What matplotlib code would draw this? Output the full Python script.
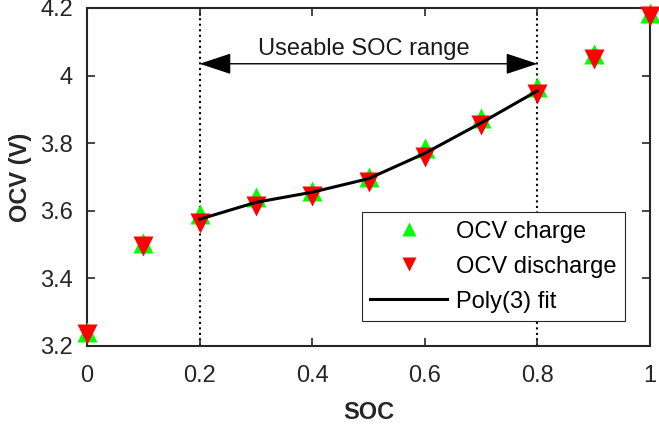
import numpy as np
import matplotlib.pyplot as plt

plt.rcParams['font.family'] = ['Liberation Sans', 'DejaVu Sans']

soc = [0, 0.1, 0.2, 0.3, 0.4, 0.5, 0.6, 0.7, 0.8, 0.9, 1.0]
ocv_charge = [3.24, 3.505, 3.59, 3.64, 3.66, 3.70, 3.785, 3.875, 3.965, 4.065, 4.185]
ocv_discharge = [3.235, 3.495, 3.565, 3.615, 3.645, 3.685, 3.76, 3.855, 3.945, 4.05, 4.175]
soc_fit = [0.2, 0.3, 0.4, 0.5, 0.6, 0.7, 0.8]
ocv_fit = [3.575, 3.625, 3.655, 3.695, 3.77, 3.86, 3.955]
soc_range = [0.2, 0.8]

fig = plt.figure(figsize=(6.59, 4.28), dpi=100)
ax = fig.add_axes([87/659, 1-346/428, 563/659, 338/428])

for s in soc_range:
    ax.plot([s, s], [3.2, 4.2], ':', color='k', lw=1.5, zorder=1)

ax.plot(soc, ocv_charge, '^', color=(0, 1, 0), ms=14.5, mec='none',
        label='OCV charge', clip_on=False, zorder=3)
ax.plot(soc, ocv_discharge, 'v', color=(1, 0, 0), ms=14.5, mec='none',
        label='OCV discharge', clip_on=False, zorder=4)
ax.plot(soc_fit, ocv_fit, '-', color='k', lw=2.2, label='Poly(3) fit', zorder=5)

ax.annotate('', xy=(soc_range[0], 4.035), xytext=(soc_range[1], 4.035),
            arrowprops=dict(arrowstyle='<|-|>,head_length=1.0,head_width=0.33',
                            color='k', lw=1, mutation_scale=20,
                            shrinkA=0, shrinkB=0))
ax.text(0.492, 4.08, 'Useable SOC range', ha='center', va='center',
        fontsize=17, color='#1a1a1a')

ax.set_xlim(0, 1)
ax.set_ylim(3.2, 4.2)
ax.set_xticks(np.arange(0, 1.01, 0.2))
ax.set_xticklabels(['0', '0.2', '0.4', '0.6', '0.8', '1'])
ax.set_yticks(np.arange(3.2, 4.21, 0.2))
ax.set_yticklabels(['3.2', '3.4', '3.6', '3.8', '4', '4.2'])
ax.tick_params(direction='in', top=True, right=True, labelsize=17,
               width=1.2, length=6, colors='#262626', labelcolor='#262626')
ax.tick_params(axis='x', pad=14)
ax.tick_params(axis='y', pad=10)
for sp in ax.spines.values():
    sp.set_linewidth(1.5)
    sp.set_color('#262626')
ax.set_xlabel('SOC', fontsize=17, fontweight='bold', color='#262626', labelpad=10)
ax.set_ylabel('OCV (V)', fontsize=17, fontweight='bold', color='#262626', labelpad=6)

leg = ax.legend(loc='lower right', bbox_to_anchor=(0.956, 0.074), fontsize=17,
                fancybox=False, framealpha=1, edgecolor='#262626',
                handlelength=3.25, handletextpad=0.4, borderpad=0.35,
                labelspacing=0.55, markerscale=0.7, borderaxespad=0)
leg.get_frame().set_linewidth(0.8)

plt.savefig('out.png', dpi=100)
